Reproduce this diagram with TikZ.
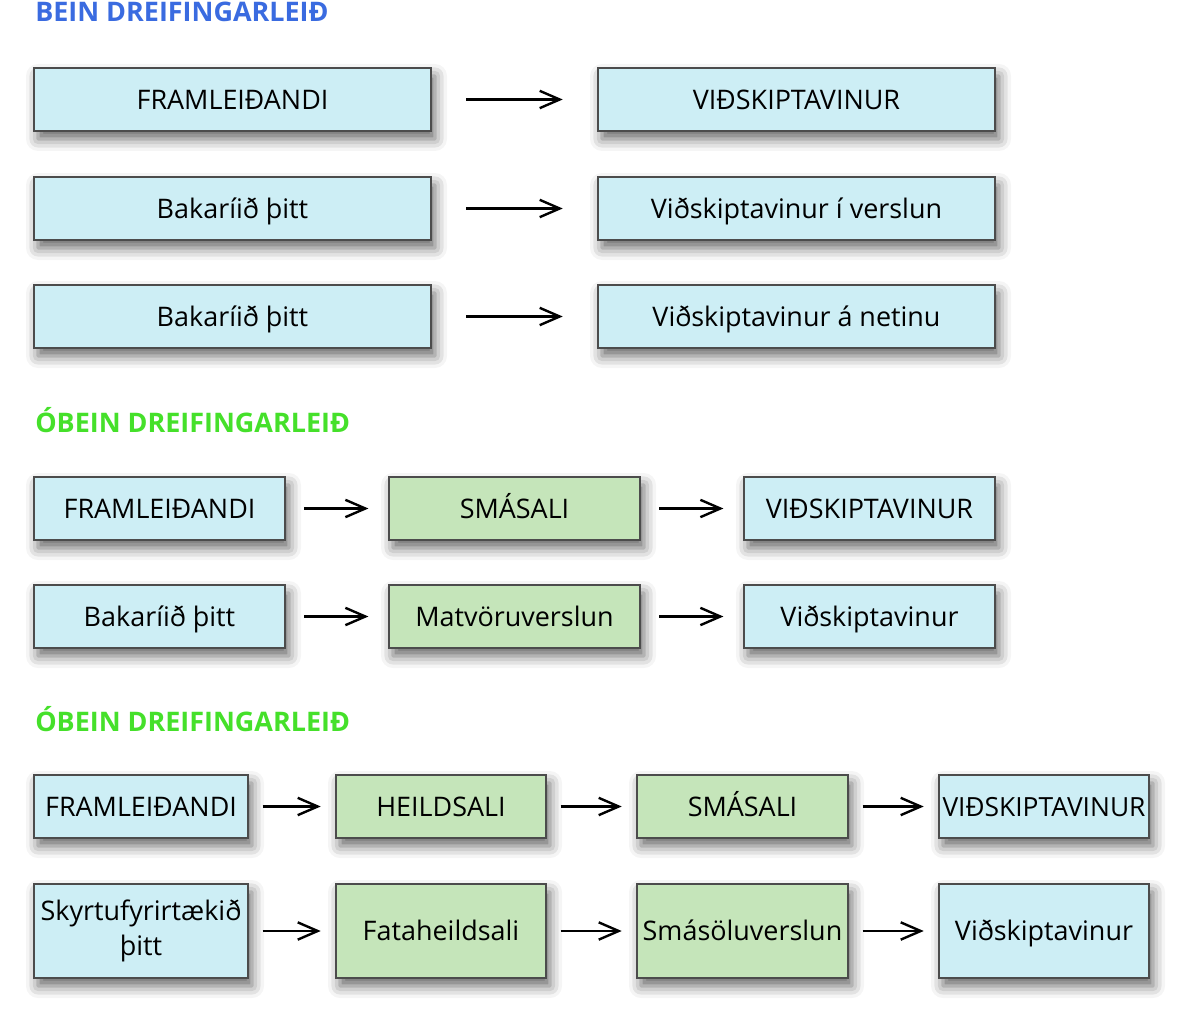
\documentclass[tikz,border=0pt]{standalone}
\usepackage{fontspec}
\setmainfont{Open Sans}
\usetikzlibrary{arrows.meta,shadows.blur}
\definecolor{boxblue}{HTML}{CDEEF5}
\definecolor{boxgreen}{HTML}{C5E5BA}
\definecolor{headblue}{HTML}{3A6BE0}
\definecolor{headgreen}{HTML}{45E02A}
\tikzset{sz/.style 2 args={minimum width=#1*0.75pt,minimum height=#2*0.75pt}}

\begin{document}
\begin{tikzpicture}[x=0.75pt,y=-0.75pt,
        box/.style={draw=black!70,line width=0.9pt,fill=boxblue,text=black,
            align=center,inner sep=0pt,font=\fontsize{20.2}{26}\selectfont,
            text height=14.5pt,text depth=0pt,
            blur shadow={shadow xshift=3pt,shadow yshift=-6pt,
                shadow blur radius=9pt,shadow opacity=60}},
        gbox/.style={box,fill=boxgreen},
        head/.style={anchor=base west,inner sep=0pt,
            font=\fontsize{20.2}{24}\selectfont\bfseries},
        arr/.style={-{Straight Barb[length=15pt,width=13pt,line width=1.8pt]},
            line width=1.8pt}
    ]
        \useasboundingbox (0,0) rectangle (1200,1030);

        % bein
        \node[head,text=headblue] (h1) at (35,22) {BEIN DREIFINGARLEIÐ};
        \node[box,sz={397}{63}] (a1) at (232.5,99.5) {FRAMLEIÐANDI};
        \node[box,sz={397}{63}] (b1) at (796.5,99.5) {VIÐSKIPTAVINUR};
        \node[box,sz={397}{63}] (a2) at (232.5,208.5) {Bakaríið þitt};
        \node[box,sz={397}{63}] (b2) at (796.5,208.5) {Viðskiptavinur í verslun};
        \node[box,sz={397}{63}] (a3) at (232.5,316.5) {Bakaríið þitt};
        \node[box,sz={397}{63}] (b3) at (796.5,316.5) {Viðskiptavinur á netinu};

        \path[arr,shorten <=26pt,shorten >=26pt]
        (a1) edge (b1)
        (a2) edge (b2)
        (a3) edge (b3);

        % obein, einn milliliður
        \node[head,text=headgreen] (h2) at (35,433) {ÓBEIN DREIFINGARLEIÐ};
        \node[box,sz={251}{63}] (p1) at (159.5,508.5) {FRAMLEIÐANDI};
        \node[gbox,sz={251}{63}] (s1) at (514.5,508.5) {SMÁSALI};
        \node[box,sz={251}{63}] (v1) at (869.5,508.5) {VIÐSKIPTAVINUR};
        \node[box,sz={251}{63}] (p2) at (159.5,616.5) {Bakaríið þitt};
        \node[gbox,sz={251}{63}] (s2) at (514.5,616.5) {Matvöruverslun};
        \node[box,sz={251}{63}] (v2) at (869.5,616.5) {Viðskiptavinur};

        \path[arr,shorten <=14pt,shorten >=15pt]
        (p1) edge (s1)
        (s1) edge (v1)
        (p2) edge (s2)
        (s2) edge (v2);

        % obein, tveir milliliðir
        \node[head,text=headgreen] (h3) at (35,731) {ÓBEIN DREIFINGARLEIÐ};
        \node[box,sz={214}{63}] (f1) at (141,806.5) {FRAMLEIÐANDI};
        \node[gbox,sz={210}{63}] (w1) at (441,806.5) {HEILDSALI};
        \node[gbox,sz={211}{63}] (r1) at (742.5,806.5) {SMÁSALI};
        \node[box,sz={210}{63},font=\fontsize{19.8}{26}\selectfont] (k1) at (1044,806.5) {VIÐSKIPTAVINUR};
        \node[box,sz={214}{94},text height=,text depth=] (f2) at (141,931) {Skyrtufyrirtækið\\þitt};
        \node[gbox,sz={210}{94}] (w2) at (441,931) {Fataheildsali};
        \node[gbox,sz={211}{94}] (r2) at (742.5,931) {Smásöluverslun};
        \node[box,sz={210}{94}] (k2) at (1044,931) {Viðskiptavinur};

        \path[arr,shorten <=10.5pt,shorten >=11pt]
        (f1) edge (w1)
        (w1) edge (r1)
        (r1) edge (k1)
        (f2) edge (w2)
        (w2) edge (r2)
        (r2) edge (k2);
\end{tikzpicture}
\end{document}
